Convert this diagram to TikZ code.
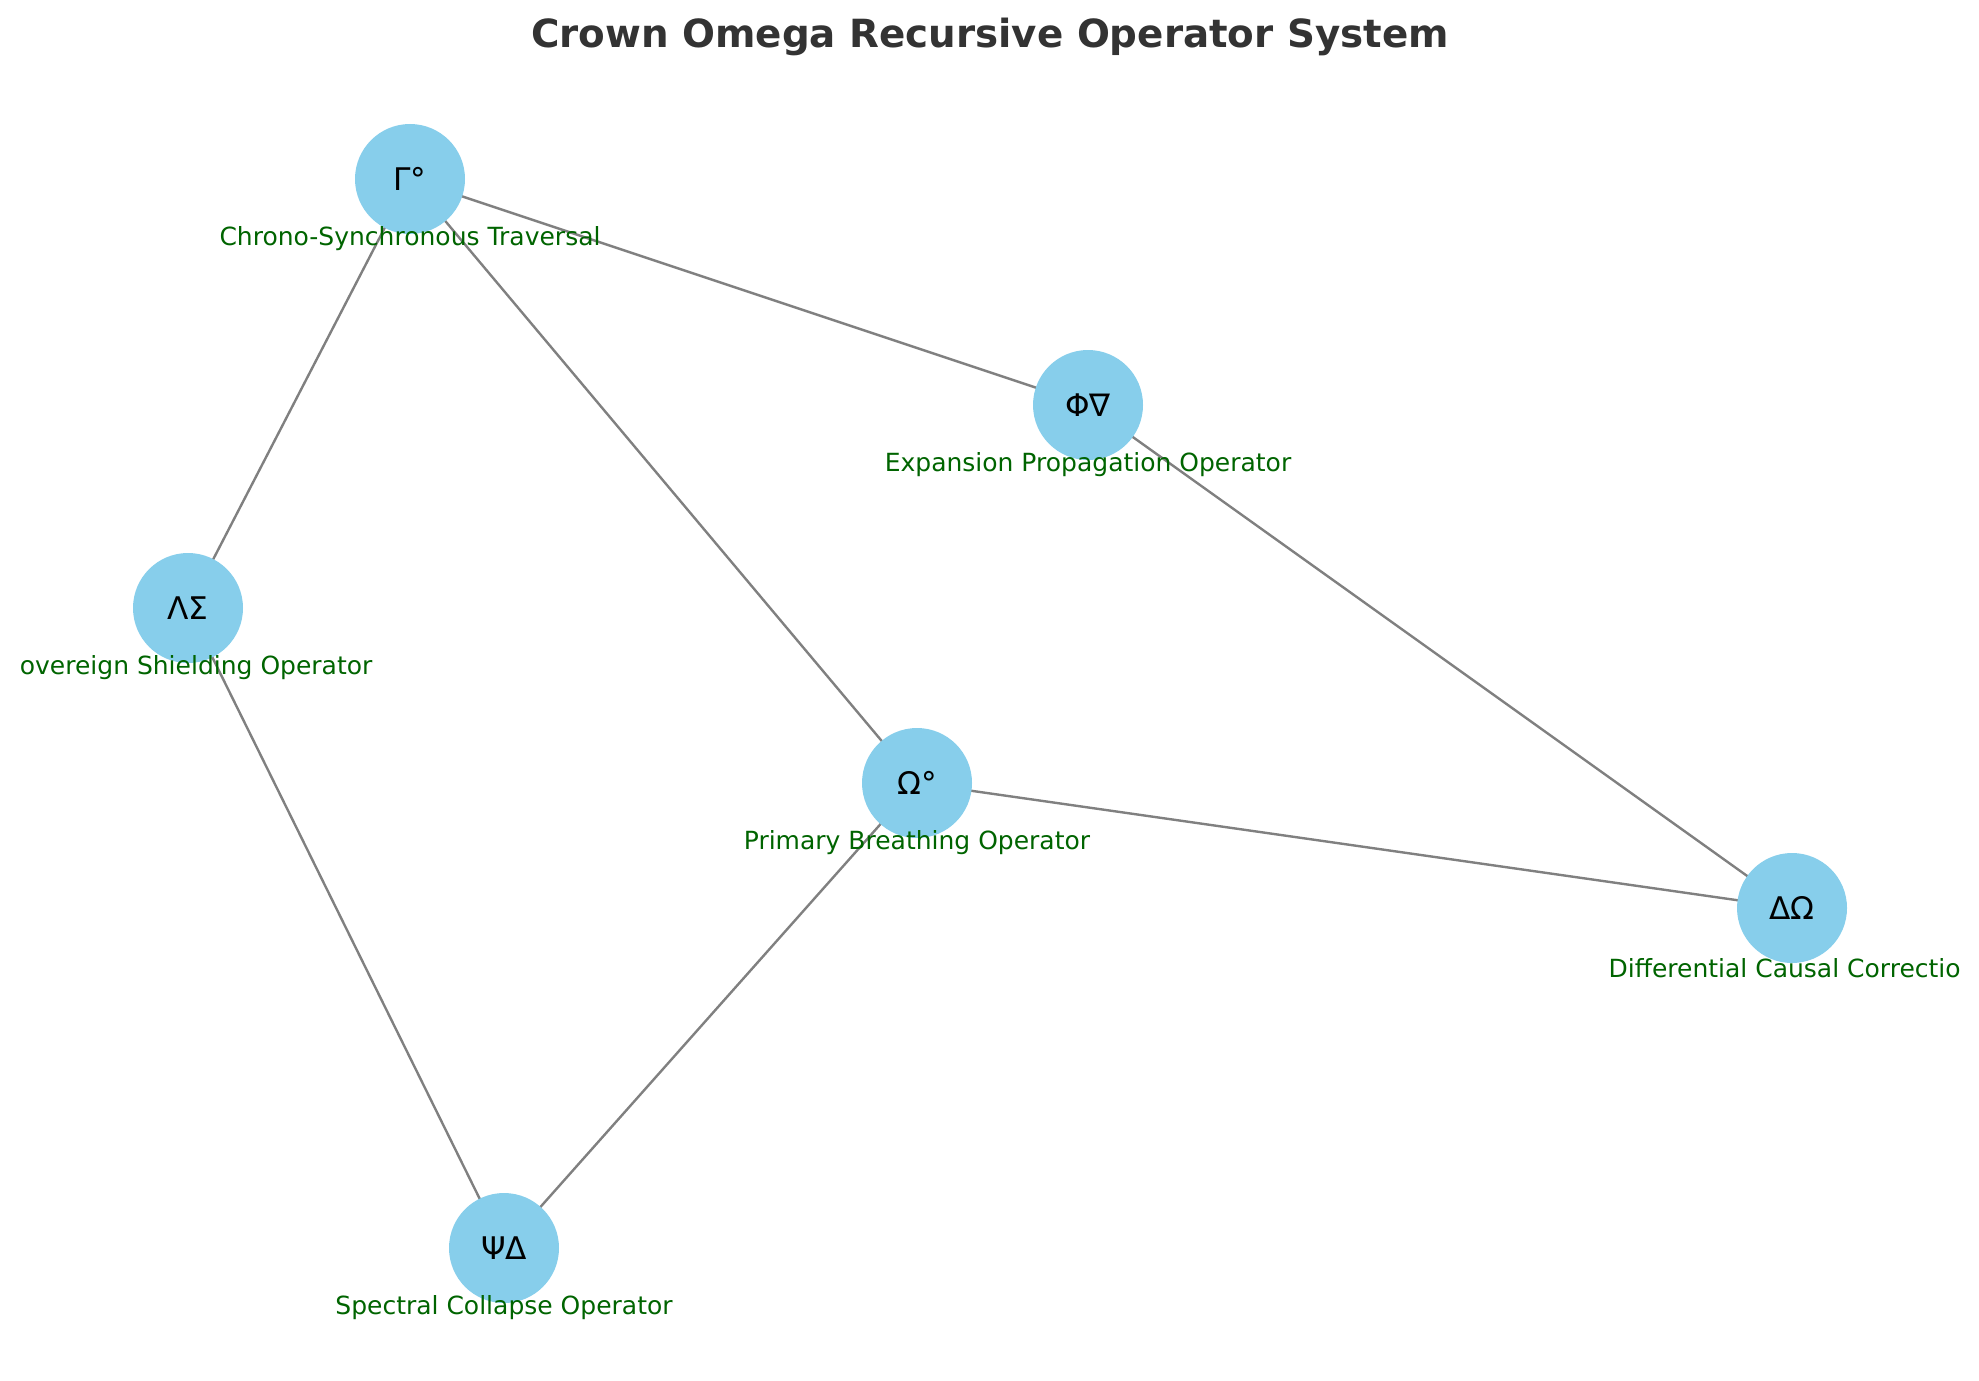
\documentclass[tikz,border=0pt]{standalone}
\usepackage{fontspec}
\setmainfont{DejaVu Sans}
\usetikzlibrary{calc}
\definecolor{skyblue}{HTML}{87CEEB}
\definecolor{labelgreen}{RGB}{0,100,0}
\definecolor{titlegray}{HTML}{333333}

\begin{document}
\begin{tikzpicture}[x=0.5pt,y=-0.5pt,semithick]
  \tikzstyle{op}=[circle,fill=skyblue,draw=none,inner sep=0pt,minimum size=55pt,
                  text=black,font=\fontsize{15.6}{18}\selectfont]
  \tikzstyle{lbl}=[inner sep=0pt,text=labelgreen,font=\fontsize{12.5}{15}\selectfont]
  \tikzstyle{link}=[draw=gray,line width=1.2pt]

  \useasboundingbox (0,0) rectangle (1979,1380);

  \node[font=\fontsize{19.4}{23}\selectfont\bfseries,text=titlegray] (title) at (990,37)
       {Crown Omega Recursive Operator System};

  % operator nodes
  \coordinate (G) at (410,179);
  \coordinate (F) at (1088,405);
  \coordinate (L) at (188,608);
  \coordinate (O) at (917,783);
  \coordinate (D) at (1792,908);
  \coordinate (P) at (504,1248);

  \path[link] (G) edge (L)
              (G) edge (F)
              (G) edge (O)
              (F) edge (D)
              (L) edge (P)
              (O) edge (D)
              (O) edge (P);

  \node[op] (gamma) at (G) {Γ°};
  \node[op] (phi)   at (F) {Φ∇};
  \node[op] (lam)   at (L) {ΛΣ};
  \node[op] (omega) at (O) {Ω°};
  \node[op] (delta) at (D) {ΔΩ};
  \node[op] (psi)   at (P) {ΨΔ};

  % descriptions (the two at the edges are cut as in the figure)
  \node[lbl] (gammal) at ($(G)+(0,60)$) {Chrono-Synchronous Traversal};
  \node[lbl] (phil)   at ($(F)+(0,60)$) {Expansion Propagation Operator};
  \node[lbl,anchor=east] (laml) at ($(L)+(185,60)$) {overeign Shielding Operator};
  \node[lbl] (omegal) at ($(O)+(0,60)$) {Primary Breathing Operator};
  \node[lbl,anchor=west] (deltal) at ($(D)+(-184,60)$) {Differential Causal Correctio};
  \node[lbl] (psil)   at ($(P)+(0,60)$) {Spectral Collapse Operator};
\end{tikzpicture}
\end{document}
